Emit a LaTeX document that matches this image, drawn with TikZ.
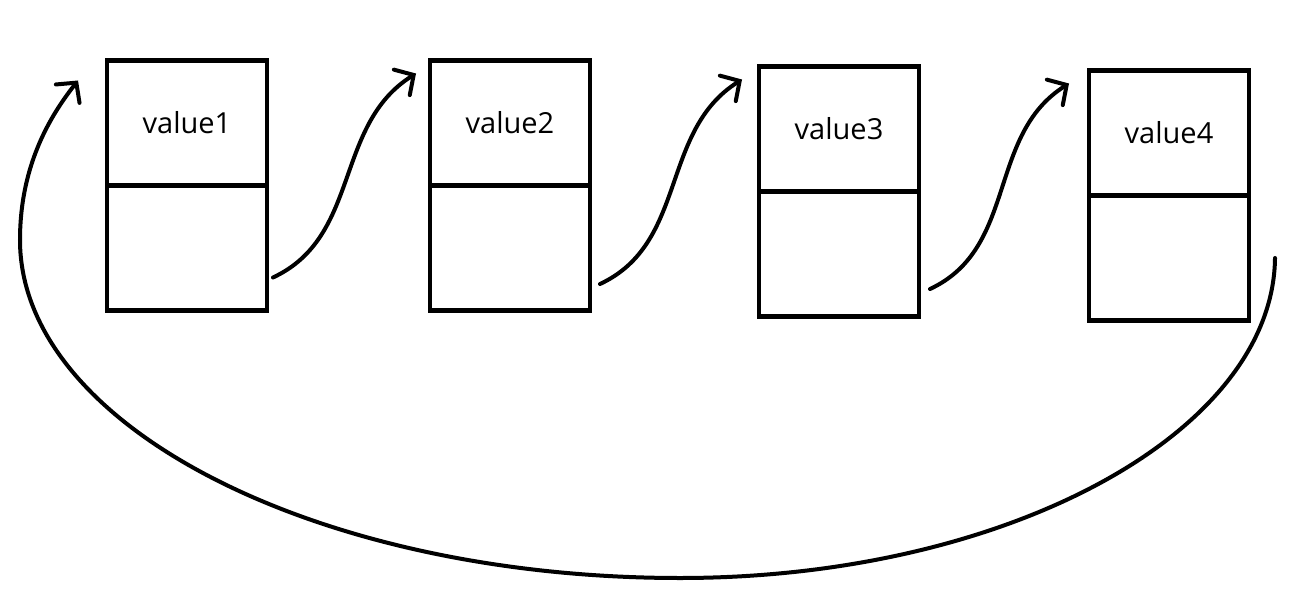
\documentclass[tikz,border=0pt]{standalone}
\usepackage{fontspec}
\setmainfont{Open Sans}
\usetikzlibrary{arrows.meta, positioning, calc}

\begin{document}
\begin{tikzpicture}[
        cell/.style={rectangle, draw=black, line width=0.09cm, minimum width=3.2cm, minimum height=2.5cm, inner sep=0pt, outer sep=0pt, align=center, font=\fontsize{16.5}{18}\selectfont},
        link/.style={-{Straight Barb[length=0.28cm, width=0.6cm, line cap=round]}, line width=0.08cm, line cap=round}
    ]
        \useasboundingbox (0,0) rectangle (26.28,12.12);

        \node[cell] (data1) at (3.74,9.66) {value1};
        \node[cell, below=0pt of data1] (next1) {};
        \node[cell, right=3.26cm of data1] (data2) {value2};
        \node[cell, below=0pt of data2] (next2) {};
        \node[cell, right=3.38cm of data2, yshift=-0.12cm] (data3) {value3};
        \node[cell, below=0pt of data3] (next3) {};
        \node[cell, right=3.4cm of data3, yshift=-0.08cm] (data4) {value4};
        \node[cell, below=0pt of data4] (next4) {};

        % loose ends of the pointers
        \coordinate (out1) at ($(next1.east)+(0.12,-0.59)$);
        \coordinate (in2) at ($(data2.north west)+(-0.28,-0.26)$);
        \coordinate (out2) at ($(next2.east)+(0.2,-0.72)$);
        \coordinate (in3) at ($(data3.north west)+(-0.34,-0.26)$);
        \coordinate (out3) at ($(next3.east)+(0.22,-0.7)$);
        \coordinate (in4) at ($(data4.north west)+(-0.4,-0.26)$);
        \coordinate (out4) at ($(next4.east)+(0.52,0)$);
        \coordinate (in1) at ($(data1.north west)+(-0.58,-0.4)$);

        \draw[link] (out1) to[out=25, in=212] (in2);
        \draw[link] (out2) to[out=25, in=212] (in3);
        \draw[link] (out3) to[out=25, in=212] (in4);

        % back to the head
        \draw[link] (out4) .. controls (25.46,3.46) and (20.12,0.56) .. (13.6,0.56)
            .. controls (6.34,0.56) and (0.4,3.6) .. (0.4,7.32)
            .. controls (0.4,8.92) and (1.1,9.92) .. (in1);
    \end{tikzpicture}
\end{document}
